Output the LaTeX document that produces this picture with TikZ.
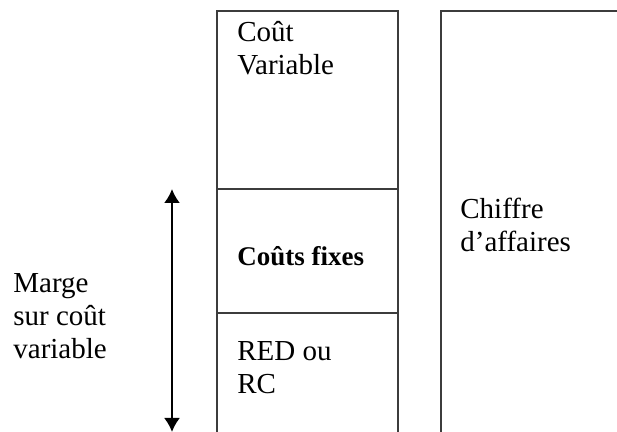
\documentclass[tikz,border=0pt]{standalone}
\usepackage{fontspec}
\setmainfont{Liberation Serif}
\usetikzlibrary{arrows.meta,positioning}
\definecolor{linegray}{RGB}{60,60,60}
\tikzset{
  cell/.style={draw=linegray, line width=1pt, inner sep=0pt, outer sep=0pt, anchor=north west},
  txt/.style={align=left, inner sep=0pt, anchor=base west,
    font=\fontsize{14.5pt}{16.5pt}\selectfont},
  span/.style={line width=1pt, {Latex[width=8pt,length=7pt]}-{Latex[width=8pt,length=7pt]}}
}
\begin{document}
\begin{tikzpicture}[x=0.5pt,y=-0.5pt]
		\useasboundingbox (0,0) rectangle (617,432);
		\clip (0,0) rectangle (617,432);
		% colonne des couts
		\node[cell, minimum width=90.5pt, minimum height=89pt] (cv) at (217,11) {};
		\node[cell, minimum width=90.5pt, minimum height=62pt] (cf) at (cv.south west) {};
		\node[cell, minimum width=90.5pt, minimum height=80pt] (red) at (cf.south west) {};
		% chiffre d'affaires
		\node[cell, minimum width=120pt, minimum height=240pt] (ca) at (441,11) {};
		% (base = derniere ligne)
		\node[txt] (tcv) at (237,75) {Coût\\Variable};
		\node[txt, font=\bfseries\fontsize{13.5pt}{16.5pt}\selectfont] (tcf) at (237,266) {Coûts fixes};
		\node[txt] (tred) at (237,394) {RED ou\\RC};
		\node[txt] (tca) at (460,252) {Chiffre\\d’affaires};
		\node[txt] (tmcv) at (13,359) {Marge\\sur coût\\variable};
		\coordinate (mtop) at (172,189);
		\coordinate (mbot) at (172,432);
		\draw[span] (mtop) -- (mbot);
\end{tikzpicture}
\end{document}
